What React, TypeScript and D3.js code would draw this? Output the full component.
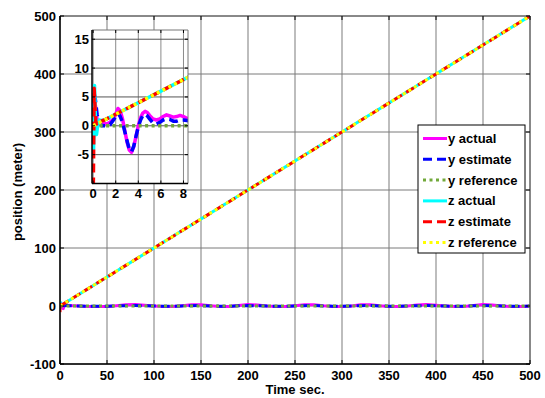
import React from 'react';
import * as d3 from 'd3';

const W = 545;
const H = 398;

// Axis ticks
const xTicks = [0, 50, 100, 150, 200, 250, 300, 350, 400, 450, 500];
const yTicks = [-100, 0, 100, 200, 300, 400, 500];
const insetXTicks = [0, 2, 4, 6, 8];
const insetYTicks = [-5, 0, 5, 10, 15];

// Lateral (y) channel: dense samples over the first seconds, then every 10 s
const yTime = [
  0, 0.1, 0.2, 0.35, 0.5, 0.8, 1.2, 1.5, 1.8, 2.0, 2.2, 2.4, 2.6, 2.8, 3.0, 3.2, 3.4, 3.6, 3.8,
  4.0, 4.2, 4.4, 4.6, 4.8, 5.0, 5.3, 5.6, 5.9, 6.2, 6.5, 6.8, 7.1, 7.4, 7.7, 8.0, 8.3, 8.6,
  10, 20, 30, 40, 50, 60, 70, 80, 90, 100, 110, 120, 130, 140, 150, 160, 170, 180, 190, 200,
  210, 220, 230, 240, 250, 260, 270, 280, 290, 300, 310, 320, 330, 340, 350, 360, 370, 380, 390, 400,
  410, 420, 430, 440, 450, 460, 470, 480, 490, 500,
];
const yActual = [
  1.0, 5.0, 3.5, 1.0, 0.3, 0.5, 0.3, 0.6, 1.2, 2.0, 3.0, 2.6, 1.2, -0.8, -2.8, -4.2, -4.6, -3.6, -1.8,
  0.0, 1.4, 2.2, 2.5, 2.3, 1.8, 1.2, 1.0, 1.2, 1.6, 1.9, 1.7, 1.5, 1.6, 1.8, 1.6, 1.3, 1.2,
  0.8, 0, -0.8, -1, -0.8, 0.5, 2, 2.5, 1.2, 0, -1, -0.8, 0.5, 2, 2.2, 0.5, -0.8, -0.8, 0.8, 2.5,
  1.8, 0, -0.8, -0.8, 0.5, 2, 2.2, 0.5, -0.8, -1, 0, 2, 2.2, 0.5, -0.8, -1, 0, 1.8, 2.5, 1.2,
  0, -1, -0.8, 0.8, 2.5, 1.8, 0, -0.8, -1, -0.5,
];
const yEstimate = [
  3.0, 5.5, 4.5, 2.0, 0.5, 0.0, 0.0, 0.2, 1.0, 1.6, 2.2, 1.6, 0.6, -1.0, -2.6, -4.0, -4.5, -3.5, -1.8,
  -0.2, 1.0, 1.8, 2.0, 1.7, 1.2, 0.5, 0.3, 0.6, 1.0, 1.2, 1.1, 0.8, 0.8, 1.0, 1.0, 0.9, 0.8,
  0.5, 0, -0.4, -0.5, -0.4, 0.2, 0.6, 0.8, 0.4, 0, -0.5, -0.4, 0.2, 0.6, 0.7, 0.2, -0.4, -0.5, 0.3, 0.8,
  0.5, 0, -0.4, -0.5, 0.2, 0.6, 0.7, 0.2, -0.4, -0.5, 0, 0.6, 0.7, 0.2, -0.4, -0.5, 0, 0.5, 0.8, 0.4,
  0, -0.5, -0.4, 0.3, 0.8, 0.5, 0, -0.4, -0.5, -0.2,
];
const refTime = [0, 500];
const yReference = [0, 0];

// Vertical (z) channel
const zActualTime = [0, 0.04, 0.08, 0.12, 0.17, 0.22, 0.3, 0.4, 0.55, 0.7, 1.0, 500];
const zActual = [0, -4, 2, 7, 4, 0, -1.5, 0, 1, 0.9, 1.0, 500];
const zEstimateTime = [0, 0.02, 0.09, 0.15, 0.22, 0.3, 0.45, 0.7, 1.0, 500];
const zEstimate = [-10.5, -10, 6.5, 4, 1, 0.3, 0.8, 0.8, 1.0, 500];
const zReference = [0, 500];

const legendLabels = ['y actual', 'y estimate', 'y reference', 'z actual', 'z estimate', 'z reference'];

type Series = { label: string; t: number[]; v: number[]; color: string; dash: string };

const series: Series[] = [
  { label: legendLabels[0], t: yTime, v: yActual, color: '#ff00ff', dash: 'none' },
  { label: legendLabels[1], t: yTime, v: yEstimate, color: '#0000ff', dash: '9,5' },
  { label: legendLabels[2], t: refTime, v: yReference, color: '#72a93a', dash: '3,3.5' },
  { label: legendLabels[3], t: zActualTime, v: zActual, color: '#00ffff', dash: 'none' },
  { label: legendLabels[4], t: zEstimateTime, v: zEstimate, color: '#ff0000', dash: '9,5' },
  { label: legendLabels[5], t: refTime, v: zReference, color: '#ffff00', dash: '3,3.5' },
];

const FONT = "'Liberation Sans', Arial, Helvetica, sans-serif";

export default function App() {
  // main axes
  const x = d3.scaleLinear().domain([0, 500]).range([60, 530]);
  const y = d3.scaleLinear().domain([-100, 500]).range([364, 16]);
  // inset axes
  const ix = d3.scaleLinear().domain([-0.1, 8.4]).range([92, 188]);
  const iy = d3.scaleLinear().domain([-10, 16.6]).range([183.5, 30]);

  const mainPath = (s: Series) =>
    d3.line<number>().x((_, i) => x(s.t[i])).y((d) => y(d))(s.v) || '';
  const insetPath = (s: Series) =>
    d3.line<number>().x((_, i) => ix(s.t[i])).y((d) => iy(d))(s.v) || '';

  const [x0, x1] = x.range();
  const [y0, y1] = [y(500), y(-100)];
  const [ix0, ix1] = ix.range();
  const [iy0, iy1] = [iy(16.6), iy(-10)];

  const legendX = 418;
  const legendY = 125;
  const rowStep = 20.8;

  return (
    <svg width={W} height={H} style={{ position: 'absolute', left: 0, top: 0, background: '#fff' }}
      fontFamily={FONT} fontWeight="bold">
      <defs>
        <clipPath id="mainClip"><rect x={x0} y={y0} width={x1 - x0} height={y1 - y0} /></clipPath>
        <clipPath id="insetClip"><rect x={ix0} y={iy0} width={ix1 - ix0} height={iy1 - iy0} /></clipPath>
      </defs>
      <rect width={W} height={H} fill="#fff" />

      {/* main grid */}
      {xTicks.map((t) => (
        <line key={'gx' + t} x1={x(t)} x2={x(t)} y1={y0} y2={y1} stroke="#bdbdbd" strokeWidth={2} />
      ))}
      {yTicks.map((t) => (
        <line key={'gy' + t} x1={x0} x2={x1} y1={y(t)} y2={y(t)} stroke="#7a7a7a" strokeWidth={1} />
      ))}

      {/* main traces */}
      <g clipPath="url(#mainClip)">
        {series.map((s) => (
          <path key={'m' + s.label} d={mainPath(s)} fill="none" stroke={s.color} strokeWidth={3}
            strokeDasharray={s.dash} strokeLinejoin="round" />
        ))}
      </g>

      {/* main frame and ticks */}
      <line x1={x0} x2={x1} y1={y0} y2={y0} stroke="#555" strokeWidth={1} />
      <line x1={x1} x2={x1} y1={y0} y2={y1} stroke="#555" strokeWidth={1} />
      <line x1={x0} x2={x0} y1={y0} y2={y1} stroke="#000" strokeWidth={1.5} />
      <line x1={x0} x2={x1} y1={y1} y2={y1} stroke="#000" strokeWidth={1.5} />
      {xTicks.map((t) => (
        <g key={'tx' + t}>
          <line x1={x(t)} x2={x(t)} y1={y1} y2={y1 - 4} stroke="#000" />
          <line x1={x(t)} x2={x(t)} y1={y0} y2={y0 + 4} stroke="#000" />
          <text x={x(t)} y={380} textAnchor="middle" fontSize={13}>{t}</text>
        </g>
      ))}
      {yTicks.map((t) => (
        <g key={'ty' + t}>
          <line x1={x0} x2={x0 + 4} y1={y(t)} y2={y(t)} stroke="#000" />
          <line x1={x1} x2={x1 - 4} y1={y(t)} y2={y(t)} stroke="#000" />
          <text x={56} y={y(t) + 4.5} textAnchor="end" fontSize={13}>{t}</text>
        </g>
      ))}
      <text x={(x0 + x1) / 2} y={394} textAnchor="middle" fontSize={13}>Time sec.</text>
      <text transform={`translate(22,${(y0 + y1) / 2 + 2}) rotate(-90)`} textAnchor="middle" fontSize={13}>
        position (meter)
      </text>

      {/* inset: zoom on the first seconds */}
      <rect x={ix0} y={iy0} width={ix1 - ix0} height={iy1 - iy0} fill="#fff" />
      {insetXTicks.map((t) => (
        <line key={'igx' + t} x1={ix(t)} x2={ix(t)} y1={iy0} y2={iy1} stroke="#8a8a8a" strokeWidth={1} />
      ))}
      {insetYTicks.map((t) => (
        <line key={'igy' + t} x1={ix0} x2={ix1} y1={iy(t)} y2={iy(t)} stroke="#555" strokeWidth={1} />
      ))}
      <g clipPath="url(#insetClip)">
        {series.map((s) => (
          <path key={'i' + s.label} d={insetPath(s)} fill="none" stroke={s.color} strokeWidth={3.5}
            strokeDasharray={s.dash} strokeLinejoin="round" />
        ))}
      </g>
      <line x1={ix0} x2={ix1} y1={iy0} y2={iy0} stroke="#777" strokeWidth={1} />
      <line x1={ix1} x2={ix1} y1={iy0} y2={iy1} stroke="#777" strokeWidth={1} />
      <line x1={ix0} x2={ix0} y1={iy0} y2={iy1} stroke="#000" strokeWidth={1.5} />
      <line x1={ix0} x2={ix1} y1={iy1} y2={iy1} stroke="#000" strokeWidth={1.5} />
      {insetXTicks.map((t) => (
        <g key={'itx' + t}>
          <line x1={ix(t)} x2={ix(t)} y1={iy1} y2={iy1 - 3} stroke="#000" />
          <line x1={ix(t)} x2={ix(t)} y1={iy0} y2={iy0 + 3} stroke="#000" />
          <text x={ix(t)} y={198} textAnchor="middle" fontSize={13}>{t}</text>
        </g>
      ))}
      {insetYTicks.map((t) => (
        <g key={'ity' + t}>
          <line x1={ix0} x2={ix0 + 3} y1={iy(t)} y2={iy(t)} stroke="#000" />
          <line x1={ix1} x2={ix1 - 3} y1={iy(t)} y2={iy(t)} stroke="#000" />
          <text x={89} y={iy(t) + 4.5} textAnchor="end" fontSize={13}>{t}</text>
        </g>
      ))}

      {/* legend */}
      <rect x={legendX} y={legendY} width={107} height={128} fill="#fff" stroke="#000" strokeWidth={1} />
      {series.map((s, i) => {
        const cy = legendY + 13.5 + i * rowStep;
        return (
          <g key={'lg' + s.label}>
            <line x1={legendX + 5} x2={legendX + 29} y1={cy} y2={cy} stroke={s.color} strokeWidth={3}
              strokeDasharray={s.dash} />
            <text x={legendX + 30} y={cy + 4.5} fontSize={13}>{s.label}</text>
          </g>
        );
      })}
    </svg>
  );
}
